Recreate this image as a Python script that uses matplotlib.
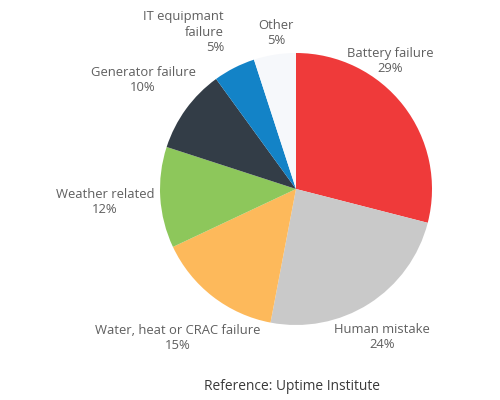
import matplotlib.pyplot as plt

categories = ["Battery failure", "Human mistake", "Water, heat or CRAC failure",
              "Weather related", "Generator failure", "IT equipmant\nfailure", "Other"]
shares = [29, 24, 15, 12, 10, 5, 5]
colors = ["#ef3a3a", "#c9c9c9", "#fdb95b", "#8dc75b", "#333d47", "#1383c7", "#f6f8fb"]

# label centres in figure pixels (x from left, y from top) and alignment
label_pos = [(390, 61), (382, 337), (178, 338), (105, 202), (143, 80), (224, 32), (276, 33)]
label_ha = ["center", "center", "center", "center", "center", "right", "center"]

W, H = 500, 400
fig = plt.figure(figsize=(5, 4), dpi=100)
plt.rcParams['font.family'] = ['Open Sans', 'DejaVu Sans']

cx, cy, r = 296, 189, 136
ax = fig.add_axes([(cx - r) / W, 1 - (cy + r) / H, 2 * r / W, 2 * r / H])
ax.pie(shares, colors=colors, startangle=90, counterclock=False,
       wedgeprops=dict(linewidth=0))
ax.set_xlim(-1, 1)
ax.set_ylim(-1, 1)
ax.set_aspect("equal")
ax.axis("off")

for name, val, (px, py), ha in zip(categories, shares, label_pos, label_ha):
    fig.text(px / W, 1 - py / H, f"{name}\n{val}%", ha=ha, va="center",
             multialignment=ha, fontsize=9.4, color="#5f5f5f", linespacing=1.25)

fig.text(292 / W, 1 - 387 / H, "Reference: Uptime Institute", ha="center", va="center",
         fontsize=9.9, color="#3a3a3a")

fig.savefig("out.png", dpi=100)
